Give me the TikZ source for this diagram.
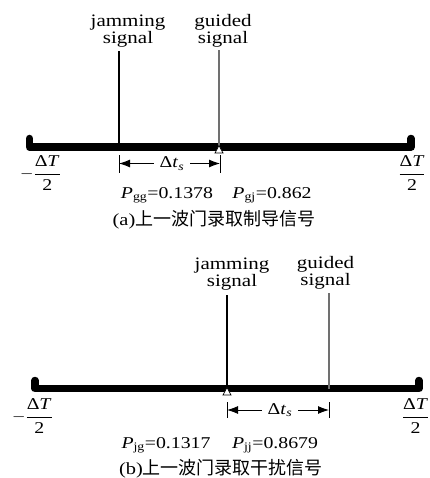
\documentclass[tikz,border=0pt]{standalone}
\usepackage{amsmath}
\usepackage{fontspec}
\setmainfont{Liberation Serif}[FakeStretch=1.2]
\newfontfamily\cjk{Noto Sans CJK SC}
\usetikzlibrary{arrows.meta}
\definecolor{GuideGray}{HTML}{707070}

\begin{document}
\begin{tikzpicture}[x=1pt,y=-1pt,
    lbl/.style={align=center,inner sep=0pt,font=\fontsize{17.5}{17}\selectfont},
    txt/.style={inner sep=0pt,font=\fontsize{16.5}{18}\selectfont},
    capt/.style={inner sep=0pt,font=\fontsize{17}{18}\selectfont},
    gate/.style={line width=7.5pt,line cap=round,line join=round},
    sig/.style={line width=1.6pt},
    tck/.style={line width=0.9pt},
    arr/.style={-{Latex[length=11pt,width=8pt]},line width=0.9pt},
    apex/.style={fill=white,draw=black,line width=0.7pt}]
  \useasboundingbox (0,0) rectangle (429,478);

  % (a) gate takes the guided signal
  \draw[gate] (29.5,138.5) -- (29.5,147) -- (411,147) -- (411,138.5);
  \coordinate (jamA) at (119,147);
  \coordinate (jamTA) at (119,51);
  \coordinate (gudA) at (219,147);
  \coordinate (gudTA) at (219,50);
  \draw[sig] (jamA) -- (jamTA);
  \draw[sig,GuideGray] (gudA) -- (gudTA);
  \draw[apex] (215,153) -- (219,145.5) -- (223,153) -- cycle;
  \node[lbl] (jamLA) at (128,31) {jamming\\signal};
  \node[lbl] (gudLA) at (223,30.5) {guided\\signal};
  \coordinate (dlA) at (119,163.5);
  \coordinate (drA) at (220,163.5);
  \node[txt,inner xsep=6pt] (dtA) at (172,163.5) {Δ\textit{t}\textsubscript{\textit{s}}};
  \draw[arr] (dtA.west) -- (dlA);
  \draw[arr] (dtA.east) -- (drA);
  \draw[tck] ([yshift=8pt]dlA) -- ([yshift=-9.5pt]dlA);
  \draw[tck] ([yshift=8pt]drA) -- ([yshift=-9.5pt]drA);
  \node[txt] (loA) at (40.5,173) {$-\dfrac{\text{Δ\textit{T}}}{\text{2}}$};
  \node[txt] (hiA) at (412,173) {$\dfrac{\text{Δ\textit{T}}}{\text{2}}$};
  \node[txt,anchor=base] (pggA) at (167,198) {\textit{P}\textsubscript{gg}=0.1378};
  \node[txt,anchor=base] (pgjA) at (272,198) {\textit{P}\textsubscript{gj}=0.862};
  \node[capt] (capA) at (214,219.5) {(a){\cjk\fontsize{18}{18}\selectfont 上一波门录取制导信号}};

  % (b) gate takes the jamming signal
  \draw[gate] (35,380.5) -- (35,388.5) -- (419,388.5) -- (419,380.5);
  \coordinate (jamB) at (227,388.5);
  \coordinate (jamTB) at (227,295);
  \coordinate (gudB) at (329,388.5);
  \coordinate (gudTB) at (329,293);
  \draw[sig] (jamB) -- (jamTB);
  \draw[sig,GuideGray] (gudB) -- (gudTB);
  \draw[apex] (223,395) -- (227,387.5) -- (231,395) -- cycle;
  \node[lbl] (jamLB) at (232,273.8) {jamming\\signal};
  \node[lbl] (gudLB) at (325.5,272.8) {guided\\signal};
  \coordinate (dlB) at (227,410);
  \coordinate (drB) at (329,410);
  \node[txt,inner xsep=6pt] (dtB) at (280,410) {Δ\textit{t}\textsubscript{\textit{s}}};
  \draw[arr] (dtB.west) -- (dlB);
  \draw[arr] (dtB.east) -- (drB);
  \draw[tck] ([yshift=8pt]dlB) -- ([yshift=-7.5pt]dlB);
  \draw[tck] ([yshift=8pt]drB) -- ([yshift=-7.5pt]drB);
  \node[txt] (loB) at (32.5,416) {$-\dfrac{\text{Δ\textit{T}}}{\text{2}}$};
  \node[txt] (hiB) at (415.5,416) {$\dfrac{\text{Δ\textit{T}}}{\text{2}}$};
  \node[txt,anchor=base] (pjgB) at (166,448) {\textit{P}\textsubscript{jg}=0.1317};
  \node[txt,anchor=base] (pjjB) at (275,448) {\textit{P}\textsubscript{jj}=0.8679};
  \node[capt] (capB) at (221,468.5) {(b){\cjk\fontsize{18}{18}\selectfont 上一波门录取干扰信号}};
\end{tikzpicture}
\end{document}
